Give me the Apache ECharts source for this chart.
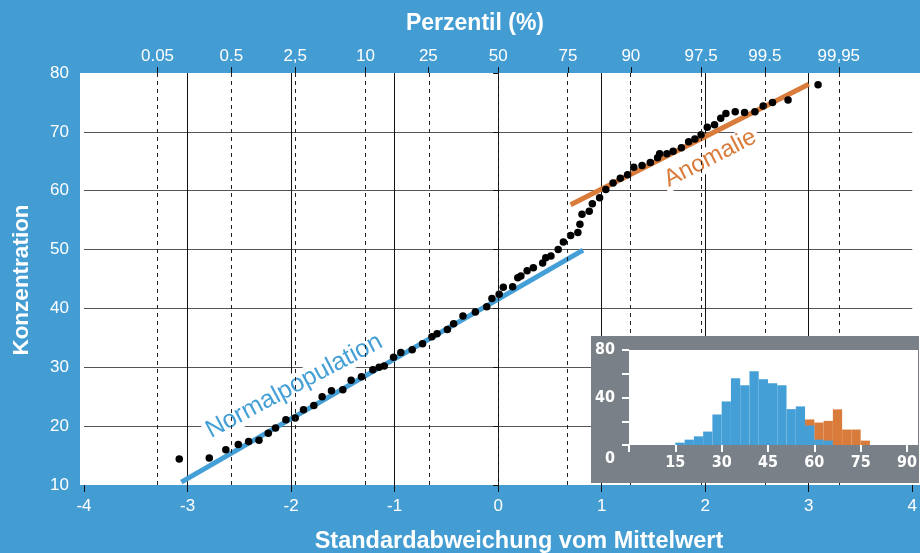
<!DOCTYPE html>
<html><head><meta charset="utf-8">
<script src="https://cdn.jsdelivr.net/npm/echarts@6/dist/echarts.min.js"></script>
<style>html,body{margin:0;padding:0;background:#439dd3}#c{width:920px;height:553px}</style>
</head><body><div id="c"></div>
<script>
// ---- data ----
const zTicks = [-4, -3, -2, -1, 0, 1, 2, 3, 4];
const concTicks = [10, 20, 30, 40, 50, 60, 70, 80];
const percentileLabels = ['0.05', '0.5', '2,5', '10', '25', '50', '75', '90', '97.5', '99.5', '99,95'];
const percentileZ = [-3.29, -2.576, -1.96, -1.282, -0.674, 0, 0.674, 1.282, 1.96, 2.576, 3.29];

const pointsZ = [-3.08,-2.79,-2.63,-2.51,-2.41,-2.31,-2.22,-2.15,-2.05,-1.96,
  -1.88,-1.78,-1.70,-1.61,-1.50,-1.42,-1.32,-1.21,-1.15,-1.10,
  -1.01,-0.94,-0.83,-0.73,-0.64,-0.59,-0.49,-0.43,-0.34,-0.22,
  -0.11,-0.06,0.01,0.05,0.14,0.19,0.22,0.28,0.34,0.43,
  0.46,0.51,0.58,0.63,0.70,0.77,0.79,0.81,0.88,0.91,
  0.98,1.04,1.11,1.18,1.25,1.31,1.39,1.47,1.54,1.56,
  1.63,1.69,1.77,1.84,1.90,1.96,2.02,2.09,2.15,2.20,
  2.29,2.38,2.48,2.56,2.65,2.80,3.09];
const pointsConc = [14.4,14.6,16.0,16.9,17.4,17.6,18.8,19.7,21.1,21.4,
  22.8,23.5,25.0,26.0,26.2,27.8,28.4,29.6,30.0,30.2,
  31.7,32.5,33.0,34.0,35.2,35.7,36.4,37.4,38.7,39.4,
  40.3,41.7,42.4,43.6,43.7,45.2,45.5,46.4,46.9,47.7,
  48.6,48.9,50.0,51.3,52.4,52.9,54.3,56.0,56.5,57.8,
  58.8,60.2,61.3,62.1,62.7,64.0,64.3,64.8,65.6,66.3,
  66.3,66.7,67.3,68.3,68.8,69.5,70.8,71.2,72.3,73.1,
  73.4,73.3,73.4,74.4,75.0,75.4,78.0];

const normalFitZ = [-3.06, 0.82];
const normalFitConc = [10.5, 49.9];
const anomalyFitZ = [0.70, 3.0];
const anomalyFitConc = [57.6, 78.1];
const normalLabel = {text: 'Normalpopulation', z: -1.97, conc: 26.8};
const anomalyLabel = {text: 'Anomalie', z: 2.05, conc: 65.5};

const histBinWidth = 3;
const histBlueStart = [15,18,21,24,27,30,33,36,39,42,45,48,51,54,57,60,63];
const histBlue = [2, 4.5, 7.3, 11.3, 25.7, 36.7, 56.2, 50.3, 62.1, 55.4, 52, 50.3, 30.2, 32.5, 16.4, 4.5, 3.7];
const histOrangeStart = [57,60,63,66,69,72,75];
const histOrange = [21.5, 18.9, 20.3, 30, 13, 13, 3.7];
const histXTicks = [0, 15, 30, 45, 60, 75, 90];
const histYTicks = [0, 20, 40, 60, 80];
const histYLabels = [80, 40, 0];

// ---- styles ----
const BG = '#439dd3', BLUE = '#449fd6', ORANGE = '#d97b3a', GRAY = '#7a8087';
const FONT = "'Liberation Sans', Arial, sans-serif";
const NARROW = "'Liberation Sans Narrow', 'DejaVu Sans Condensed', 'Liberation Sans', sans-serif";

const chart = echarts.init(document.getElementById('c'), null, {renderer: 'canvas'});

const option = {
  animation: false,
  backgroundColor: BG,
  grid: [
    {left: 84, right: 4, top: 73, bottom: 68},
    {left: 629, top: 350, width: 289, height: 95}
  ],
  xAxis: [
    {type: 'value', gridIndex: 0, min: zTicks[0], max: zTicks[zTicks.length-1], interval: 1,
     axisLine: {show: false},
     axisTick: {show: true, length: 7, lineStyle: {color: '#111', width: 1}},
     axisLabel: {color: '#fff', fontSize: 17, fontFamily: FONT, margin: 13},
     splitLine: {show: true, showMinLine: false, showMaxLine: false, lineStyle: {color: '#111', width: 1}}},
    {type: 'value', gridIndex: 0, position: 'top', min: zTicks[0], max: zTicks[zTicks.length-1],
     axisLine: {show: false},
     axisTick: {show: true, length: 6, customValues: percentileZ, lineStyle: {color: '#111', width: 1}},
     axisLabel: {color: '#fff', fontSize: 17, fontFamily: FONT, margin: 8, customValues: percentileZ,
       formatter: v => { const i = percentileZ.findIndex(p => Math.abs(p - v) < 1e-6); return i >= 0 ? percentileLabels[i] : ''; }},
     splitLine: {show: false}},
    {type: 'value', gridIndex: 1, min: 0, max: 93, z: 12,
     axisLine: {show: false},
     axisTick: {show: true, length: 7, customValues: histXTicks, lineStyle: {color: '#fff', width: 2}},
     axisLabel: {color: '#fff', fontSize: 16, fontWeight: 'bold', fontFamily: NARROW, margin: 10,
       customValues: histXTicks.filter(v => v > 0)},
     splitLine: {show: false}}
  ],
  yAxis: [
    {type: 'value', gridIndex: 0, min: concTicks[0], max: concTicks[concTicks.length-1], interval: 10, offset: 4,
     axisLine: {show: false},
     axisTick: {show: true, length: 5, lineStyle: {color: '#111', width: 1}},
     axisLabel: {color: '#fff', fontSize: 17, fontFamily: FONT, margin: 11},
     splitLine: {show: true, showMinLine: false, showMaxLine: false, lineStyle: {color: '#555', width: 1}}},
    {type: 'value', gridIndex: 1, min: 0, max: 80, interval: 20, z: 12,
     axisLine: {show: false},
     axisTick: {show: true, length: 7, lineStyle: {color: '#fff', width: 2}},
     axisLabel: {color: '#fff', fontSize: 16, fontWeight: 'bold', fontFamily: NARROW, margin: 14, lineHeight: 28,
       formatter: v => histYLabels.indexOf(v) < 0 ? '' : (v === 0 ? '\n0' : String(v))},
     splitLine: {show: false}}
  ],
  series: [
    {type: 'scatter', xAxisIndex: 0, yAxisIndex: 0, data: [], z: 1, silent: true,
     markLine: {silent: true, symbol: ['none', 'none'], label: {show: false},
       lineStyle: {type: [4, 4], color: '#222', width: 1},
       data: percentileZ.map(z => ({xAxis: z}))}},
    {type: 'line', xAxisIndex: 0, yAxisIndex: 0, symbol: 'none', z: 3,
     lineStyle: {color: BLUE, width: 5},
     data: normalFitZ.map((z, i) => [z, normalFitConc[i]])},
    {type: 'line', xAxisIndex: 0, yAxisIndex: 0, symbol: 'none', z: 3,
     lineStyle: {color: ORANGE, width: 5},
     data: anomalyFitZ.map((z, i) => [z, anomalyFitConc[i]])},
    {type: 'scatter', xAxisIndex: 0, yAxisIndex: 0, symbolSize: 7.5, z: 4,
     itemStyle: {color: '#000', opacity: 1},
     data: pointsZ.map((z, i) => [z, pointsConc[i]])},
    {type: 'bar', xAxisIndex: 2, yAxisIndex: 1, z: 12, barWidth: '100%', barGap: '-100%',
     itemStyle: {color: ORANGE},
     data: histOrangeStart.map((s, i) => [s + histBinWidth / 2, histOrange[i]])},
    {type: 'bar', xAxisIndex: 2, yAxisIndex: 1, z: 12, barWidth: '100%', barGap: '-100%',
     itemStyle: {color: BLUE},
     data: histBlueStart.map((s, i) => [s + histBinWidth / 2, histBlue[i]])}
  ]
};
chart.setOption(option);

const pN = chart.convertToPixel({gridIndex: 0}, [normalLabel.z, normalLabel.conc]);
const pA = chart.convertToPixel({gridIndex: 0}, [anomalyLabel.z, anomalyLabel.conc]);
const deg = Math.PI / 180;
chart.setOption({
  graphic: [
    {type: 'rect', z: -10, shape: {x: 80, y: 73, width: 840, height: 412}, style: {fill: '#fff'}},
    {type: 'text', z: 2, x: pN[0], y: pN[1], rotation: 28 * deg,
     style: {text: normalLabel.text, fill: BLUE, font: '25px ' + FONT, align: 'center', verticalAlign: 'middle',
       backgroundColor: '#fff', padding: [0, 3]}},
    {type: 'text', z: 2, x: pA[0], y: pA[1], rotation: 27 * deg,
     style: {text: anomalyLabel.text, fill: ORANGE, font: '24px ' + FONT, align: 'center', verticalAlign: 'middle',
       backgroundColor: '#fff', padding: [0, 3]}},
    {type: 'rect', z: 10, shape: {x: 591, y: 336, width: 328, height: 147}, style: {fill: GRAY}},
    {type: 'rect', z: 11, shape: {x: 629, y: 350, width: 289, height: 95}, style: {fill: '#fff'}},
    {type: 'text', z: 5, x: 475, y: 24, style: {text: 'Perzentil (%)', fill: '#fff', font: 'bold 23px ' + FONT, align: 'center', verticalAlign: 'middle'}},
    {type: 'text', z: 5, x: 519, y: 542, style: {text: 'Standardabweichung vom Mittelwert', fill: '#fff', font: 'bold 23.5px ' + FONT, align: 'center', verticalAlign: 'middle'}},
    {type: 'text', z: 5, x: 22, y: 280, rotation: 90 * deg, style: {text: 'Konzentration', fill: '#fff', font: 'bold 22.5px ' + FONT, align: 'center', verticalAlign: 'middle'}}
  ]
});
</script></body></html>
